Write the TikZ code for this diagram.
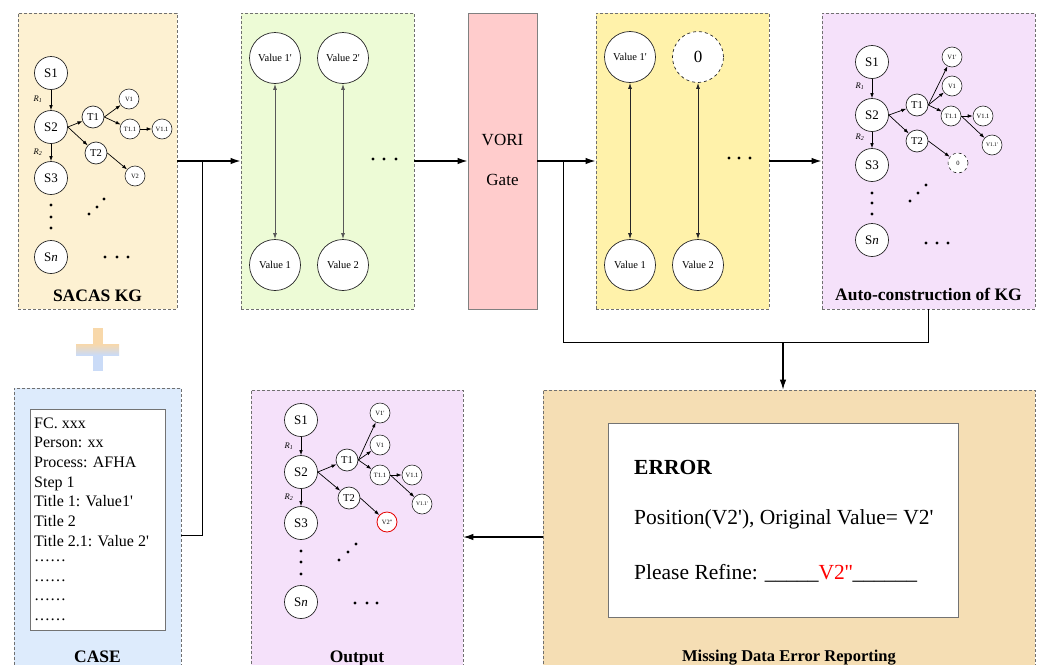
\documentclass[tikz,border=0pt]{standalone}
\usepackage{fontspec}
\setmainfont{Liberation Serif}[Ligatures=TeXOff]
\usetikzlibrary{arrows.meta}

\definecolor{kgorange}{RGB}{253,241,210}
\definecolor{valgreen}{RGB}{237,251,214}
\definecolor{gatepink}{RGB}{255,204,204}
\definecolor{valyellow}{RGB}{255,242,170}
\definecolor{kgpurple}{RGB}{245,225,250}
\definecolor{caseblue}{RGB}{221,235,252}
\definecolor{errwheat}{RGB}{245,222,180}
\definecolor{plusorange}{RGB}{248,216,170}
\definecolor{plusblue}{RGB}{202,219,247}
\definecolor{edgegray}{RGB}{112,112,112}

\newcommand{\fsz}[1]{\fontsize{#1}{#1}\selectfont}

\begin{document}
\begin{tikzpicture}[x=1pt,y=-1pt,
  panel/.style={draw=edgegray, dash pattern=on 3pt off 2pt, line width=0.8pt,
    inner sep=0pt},
  innerbox/.style={draw=black!55, line width=1pt, fill=white, inner sep=0pt},
  sbig/.style={circle, draw=black!85, line width=0.7pt, fill=white,
    minimum size=33pt, inner sep=0pt, font=\fsz{13}},
  tmid/.style={circle, draw=black!85, line width=0.7pt, fill=white,
    minimum size=22pt, inner sep=0pt, font=\fsz{10.5}},
  vsmall/.style={circle, draw=black!85, line width=0.6pt, fill=white,
    minimum size=20pt, inner sep=0pt, font=\fsz{6.5}},
  valnode/.style={circle, draw=black!85, line width=0.7pt, fill=white,
    minimum size=51pt, inner sep=0pt, font=\fsz{10.5}},
  kgedge/.style={-{Latex[length=5pt,width=3.6pt]}, line width=0.7pt},
  pairedge/.style={{Latex[length=6pt,width=4pt]}-{Latex[length=6pt,width=4pt]},
    line width=0.9pt},
  flow/.style={-{Latex[length=10pt,width=6.5pt]}, line width=1.4pt},
  link/.style={line width=1pt},
  rlab/.style={font=\fsz{8.5}\itshape, inner sep=0pt},
  title/.style={font=\fsz{17.5}\bfseries, anchor=base, inner sep=0pt},
  casefont/.style={font=\fsz{16}, anchor=base west, inner sep=0pt},
  errfont/.style={font=\fsz{21.5}, anchor=base west, inner sep=0pt},
]
\clip (0,0) rectangle (1038,664);
\fill[white] (0,0) rectangle (1038,664);

% ---------- panels ----------
\node[panel, fill=kgorange, minimum width=159pt, minimum height=296pt] (sacas) at (97.5,161) {};
\node[panel, fill=valgreen, minimum width=173pt, minimum height=296pt] (greenp) at (327.5,161) {};
\node[draw=black!50, line width=0.8pt, fill=gatepink, minimum width=69pt, minimum height=296pt, inner sep=0pt] (vori) at (502.5,161) {};
\node[panel, fill=valyellow, minimum width=173pt, minimum height=296pt] (yellowp) at (682.5,161) {};
\node[panel, fill=kgpurple, minimum width=213pt, minimum height=296pt] (autop) at (928.5,161) {};
\node[panel, fill=caseblue, minimum width=167pt, minimum height=312pt] (casep) at (97.5,544) {};
\node[panel, fill=kgpurple, minimum width=212pt, minimum height=310pt] (outp) at (357,545) {};
\node[panel, fill=errwheat, minimum width=492pt, minimum height=310pt] (errp) at (789,545) {};

% ---------- plus sign ----------
\fill[plusorange] (93,328) rectangle (103,344);
\fill[plusblue] (93,355) rectangle (103,371);
\shade[top color=plusorange, bottom color=plusblue] (76,344) rectangle (119,355);

% ---------- SACAS KG ----------
\node[sbig] (a-s1) at (51,73) {S1};
\node[sbig] (a-s2) at (51,127) {S2};
\node[sbig] (a-s3) at (51,178) {S3};
\node[sbig] (a-sn) at (51,257) {S\textit{n}};
\node[tmid] (a-t1) at (93,117) {T1};
\node[tmid] (a-t2) at (96,153) {T2};
\node[vsmall] (a-v1) at (129,99) {V1};
\node[vsmall] (a-t11) at (130,129) {T1.1};
\node[vsmall] (a-v11) at (162,129) {V1.1};
\node[vsmall] (a-v2) at (135,176) {V2};
\draw[kgedge] (a-s1.south) -- (a-s2.north);
\draw[kgedge] (a-s2.south) -- (a-s3.north);
\draw[kgedge] (a-s2.east) -- (a-t1);
\draw[kgedge] (a-s2.east) -- (a-t2);
\draw[kgedge] (a-t1.east) -- (a-v1);
\draw[kgedge] (a-t1.east) -- (a-t11);
\draw[kgedge] (a-t11.east) -- (a-v11);
\draw[kgedge] (a-t2.east) -- (a-v2);
\node[rlab] (a-r1) at (38,99) {R\textsubscript{1}};
\node[rlab] (a-r2) at (38,152) {R\textsubscript{2}};
\foreach \y in {205,217,228} \fill (51,\y) circle (1.6);
\foreach \x/\y in {89/214,97/207,104/199} \fill (\x,\y) circle (1.6);
\foreach \x in {105,117,128} \fill (\x,257) circle (1.6);
\node[title] (sacas-t) at (97.5,301) {SACAS KG};

% ---------- value pairs (before the gate) ----------
\node[valnode] (g-v1p) at (275,58) {Value 1'};
\node[valnode] (g-v2p) at (343,58) {Value 2'};
\node[valnode] (g-v1) at (275,265) {Value 1};
\node[valnode] (g-v2) at (343,265) {Value 2};
\draw[pairedge, draw=black!65] (g-v1p) -- (g-v1);
\draw[pairedge, draw=black!65] (g-v2p) -- (g-v2);
\foreach \x in {373,384,396} \fill (\x,159) circle (1.6);

% ---------- VORI gate ----------
\node[font=\fsz{17}, inner sep=0pt] (vori-a) at (502.5,140) {VORI};
\node[font=\fsz{17}, inner sep=0pt] (vori-b) at (502.5,180) {Gate};

% ---------- value pairs (after the gate) ----------
\node[valnode] (y-v1p) at (630,57) {Value 1'};
\node[valnode, dashed] (y-zero) at (698,57) {\fsz{17}0};
\node[valnode] (y-v1) at (630,265) {Value 1};
\node[valnode] (y-v2) at (698,265) {Value 2};
\draw[pairedge, draw=black!85] (y-v1p) -- (y-v1);
\draw[pairedge, draw=black!85] (y-zero) -- (y-v2);
\foreach \x in {729,739,750} \fill (\x,158) circle (1.6);

% ---------- auto-construction of KG ----------
\node[sbig] (b-s1) at (872,62) {S1};
\node[sbig] (b-s2) at (872,115) {S2};
\node[sbig] (b-s3) at (872,165) {S3};
\node[sbig] (b-sn) at (872,240) {S\textit{n}};
\node[tmid] (b-t1) at (917,105) {T1};
\node[tmid] (b-t2) at (917,141) {T2};
\node[vsmall] (b-v1p) at (952,57) {V1'};
\node[vsmall] (b-v1) at (952,86) {V1};
\node[vsmall] (b-t11) at (951,116) {T1.1};
\node[vsmall] (b-v11) at (983,116) {V1.1};
\node[vsmall, font=\fsz{5.5}] (b-v11p) at (992,145) {V1.1'};
\node[vsmall, dashed] (b-zero) at (958,163) {0};
\draw[kgedge] (b-s1.south) -- (b-s2.north);
\draw[kgedge] (b-s2.south) -- (b-s3.north);
\draw[kgedge] (b-s2.east) -- (b-t1);
\draw[kgedge] (b-s2.east) -- (b-t2);
\draw[kgedge] (b-t1.east) -- (b-v1p);
\draw[kgedge] (b-t1.east) -- (b-v1);
\draw[kgedge] (b-t1.east) -- (b-t11);
\draw[kgedge] (b-t11.east) -- (b-v11);
\draw[kgedge] (b-t11.east) -- (b-v11p);
\draw[kgedge] (b-t2.east) -- (b-zero);
\node[rlab] (b-r1) at (860,86) {R\textsubscript{1}};
\node[rlab] (b-r2) at (860,137) {R\textsubscript{2}};
\foreach \y in {193,203,214} \fill (872,\y) circle (1.6);
\foreach \x/\y in {910/201,918/193,926/185} \fill (\x,\y) circle (1.6);
\foreach \x in {926,937,948} \fill (\x,243) circle (1.6);
\node[title] (auto-t) at (928.5,300) {Auto-construction of KG};

% ---------- CASE ----------
\node[innerbox, minimum width=135pt, minimum height=221pt] (casebox) at (97.5,519.5) {};
\foreach \t [count=\i] in {FC. xxx, Person: xx, Process: AFHA, Step 1,
    Title 1: Value1', Title 2, Title 2.1: Value 2'}
  \node[casefont] (case\i) at (34,428.3+19.65*\i-19.65) {\t};
\foreach \i in {8,...,11}
  \node[casefont] (case\i) at (34,428.3+19.65*\i-19.65) {\raisebox{4.5pt}{……}};
\node[title] (case-t) at (97.5,662) {CASE};

% ---------- output KG ----------
\node[sbig] (c-s1) at (301,420) {S1};
\node[sbig] (c-s2) at (301,472) {S2};
\node[sbig] (c-s3) at (301,523) {S3};
\node[sbig] (c-sn) at (301,602) {S\textit{n}};
\node[tmid] (c-t1) at (347,460) {T1};
\node[tmid] (c-t2) at (349,498) {T2};
\node[vsmall] (c-v1p) at (380,413) {V1'};
\node[vsmall] (c-v1) at (380,445) {V1};
\node[vsmall] (c-t11) at (380,475) {T1.1};
\node[vsmall] (c-v11) at (412,475) {V1.1};
\node[vsmall, font=\fsz{5.5}] (c-v11p) at (422,504) {V1.1'};
\node[vsmall, draw=red!90!black, line width=0.8pt] (c-v2pp) at (387,522) {V2''};
\draw[kgedge] (c-s1.south) -- (c-s2.north);
\draw[kgedge] (c-s2.south) -- (c-s3.north);
\draw[kgedge] (c-s2.east) -- (c-t1);
\draw[kgedge] (c-s2.east) -- (c-t2);
\draw[kgedge] (c-t1.east) -- (c-v1p);
\draw[kgedge] (c-t1.east) -- (c-v1);
\draw[kgedge] (c-t1.east) -- (c-t11);
\draw[kgedge] (c-t11.east) -- (c-v11);
\draw[kgedge] (c-t11.east) -- (c-v11p);
\draw[kgedge] (c-t2.east) -- (c-v2pp);
\node[rlab] (c-r1) at (289,446) {R\textsubscript{1}};
\node[rlab] (c-r2) at (289,497) {R\textsubscript{2}};
\foreach \y in {551,562,574} \fill (301,\y) circle (1.6);
\foreach \x/\y in {339/560,348/552,356/544} \fill (\x,\y) circle (1.6);
\foreach \x in {355,367,377} \fill (\x,603) circle (1.6);
\node[title] (out-t) at (357,662) {Output};

% ---------- error report ----------
\node[innerbox, minimum width=350pt, minimum height=194pt] (errbox) at (783,520) {};
\node[errfont, font=\fsz{21.5}\bfseries] (err1) at (634,474) {ERROR};
\node[errfont] (err2) at (634,524) {Position(V2'), Original Value= V2'};
\node[errfont] (err3) at (634,579) {Please Refine: \_\_\_\_\_\textcolor{red}{V2''}\_\_\_\_\_\_};
\node[title, font=\fsz{16.5}\bfseries] (err-t) at (789,661) {Missing Data Error Reporting};

% ---------- connectors ----------
\coordinate (j1) at (202,161);
\coordinate (j1b) at (202,535);
\coordinate (j2) at (563,161);
\coordinate (j2b) at (563,342);
\coordinate (j3) at (783,342);
\coordinate (eo) at (0,537);
\draw[flow] (sacas.east) -- (greenp.west);
\draw[flow] (greenp.east) -- (vori.west);
\draw[flow] (vori.east) -- (yellowp.west);
\draw[flow] (yellowp.east) -- (autop.west);
\draw[link] (casep.east |- j1b) -- (j1b) -- (j1);
\draw[link] (j2) -- (j2b) -- (autop.south |- j2b) -- (autop.south);
\draw[flow, line width=1.1pt] (j3) -- (j3 |- errp.north);
\draw[flow, line width=1.1pt] (errp.west |- eo) -- (outp.east |- eo);
\end{tikzpicture}
\end{document}
